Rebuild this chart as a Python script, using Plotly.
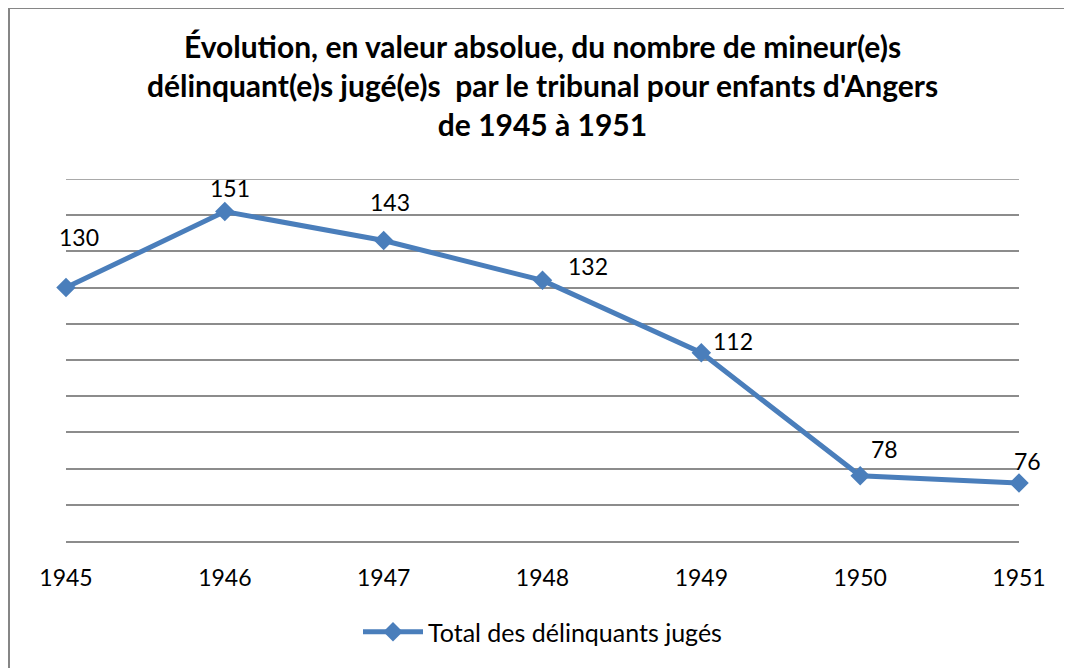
import plotly.graph_objects as go

years = [1945, 1946, 1947, 1948, 1949, 1950, 1951]
totals = [130, 151, 143, 132, 112, 78, 76]
series_name = "Total des délinquants jugés"
title_lines = [
    "Évolution, en valeur absolue, du nombre de mineur(e)s",
    "délinquant(e)s jugé(e)s  par le tribunal pour enfants d'Angers",
    "de 1945 à 1951",
]
y_min, y_max, y_step = 60, 160, 10

# label offsets in pixels (style only)
label_dx = [13, 5, 6, 45, 32, 24, 8]
label_dy = [51, 24, 39, 14, 12, 27, 22]

W, H = 1072, 668
OFF = 8  # page body margin
L, T = 66 - OFF, 179 - OFF
R = W - (1019 - OFF)
B = H - (541 - OFF)
pw, ph = W - L - R, H - T - B

FONT = "Lato"
BLUE = "#4a7ebb"
GRID = "#8c8c8c"

fig = go.Figure()
fig.add_trace(go.Scatter(
    x=years, y=totals, mode="lines+markers", name=series_name,
    line=dict(color=BLUE, width=5),
    marker=dict(symbol="diamond", size=15, color=BLUE),
    cliponaxis=False,
))

for x, y, dx, dy in zip(years, totals, label_dx, label_dy):
    fig.add_annotation(x=x, y=y, text=str(y), showarrow=False,
                       xshift=dx, yshift=dy,
                       font=dict(family=FONT, size=23, color="#000000"))

def px(xs):
    return (xs - OFF - L) / pw

def py(ys):
    return (H - B - (ys - OFF)) / ph

# top gridline (plotly omits the one on the plot edge)
fig.add_shape(type="line", xref="paper", yref="y", x0=0, x1=1, y0=y_max, y1=y_max,
              line=dict(color=GRID, width=1.5), layer="below")

fig.add_shape(type="line", xref="paper", yref="paper",
              x0=px(9), x1=px(9), y0=py(700), y1=py(8),
              line=dict(color="#868686", width=2))
fig.add_shape(type="line", xref="paper", yref="paper",
              x0=px(9), x1=px(1090), y0=py(8), y1=py(8),
              line=dict(color="#868686", width=2))

fig.update_layout(
    width=W, height=H,
    margin=dict(l=L, r=R, t=T, b=B),
    paper_bgcolor="white", plot_bgcolor="white",
    title=dict(text="<br>".join(title_lines), x=(L + pw / 2) / W, xanchor="center",
               y=1 - 50 / H, yanchor="top", yref="container",
               font=dict(family=FONT, size=30, color="#000000", weight="bold")),
    showlegend=True,
    legend=dict(orientation="h", x=0.5, xanchor="center", y=py(632), yanchor="middle",
                font=dict(family=FONT, size=25, color="#000000"),
                bgcolor="rgba(0,0,0,0)", itemwidth=60),
    xaxis=dict(range=[years[0], years[-1]], tickvals=years, ticktext=[str(y) for y in years],
               showgrid=False, zeroline=False, showline=True, linecolor=GRID, linewidth=1.5,
               ticks="", ticklabelstandoff=16,
               tickfont=dict(family=FONT, size=23, color="#000000")),
    yaxis=dict(range=[y_min, y_max], tickvals=list(range(y_min, y_max + 1, y_step)),
               showticklabels=False, showgrid=True, gridcolor=GRID, gridwidth=1.5,
               zeroline=False, showline=False, ticks=""),
)

fig.write_html("out.html")
